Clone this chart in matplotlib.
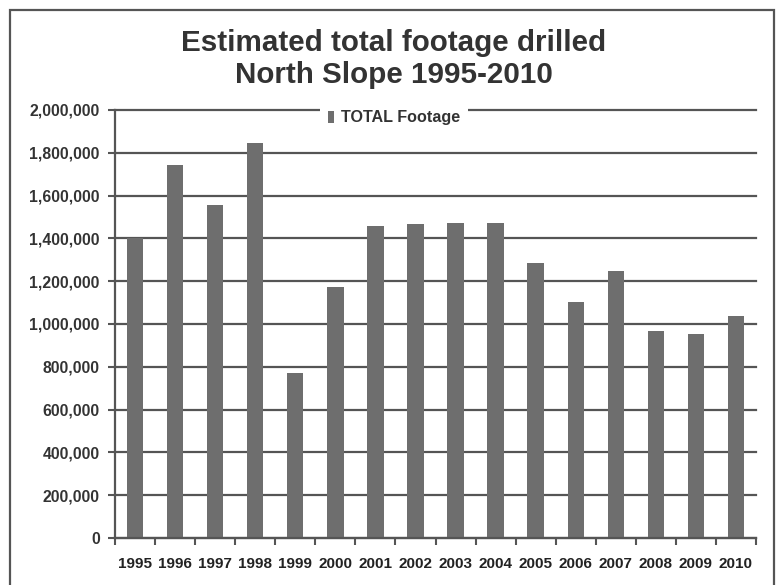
import matplotlib
matplotlib.use("Agg")
import matplotlib.pyplot as plt
from matplotlib.patches import Rectangle
from matplotlib.ticker import FuncFormatter, FixedLocator

years = ["1995", "1996", "1997", "1998", "1999", "2000", "2001", "2002",
         "2003", "2004", "2005", "2006", "2007", "2008", "2009", "2010"]
total_footage = [1400000, 1741000, 1556000, 1846000, 769000, 1174000, 1457000, 1469000,
                 1474000, 1474000, 1284000, 1104000, 1247000, 966000, 954000, 1039000]
y_ticks = [0, 200000, 400000, 600000, 800000, 1000000, 1200000, 1400000,
           1600000, 1800000, 2000000]

W, H = 782, 585
fig = plt.figure(figsize=(W / 100, H / 100), dpi=100)
fig.patch.set_facecolor("white")

font = ["Liberation Sans", "DejaVu Sans"]

# outer frame around the chart
fig.add_artist(Rectangle((10 / W, 1 - 600 / H), 764 / W, 590 / H,
                         transform=fig.transFigure, fill=False,
                         edgecolor="#555555", linewidth=1.6))

left, right, top, bottom = 115, 756, 110, 538
ax = fig.add_axes([left / W, 1 - bottom / H, (right - left) / W, (bottom - top) / H])

x = list(range(len(years)))
ax.bar(x, total_footage, width=0.41, color="#6e6e6e", label="TOTAL Footage", zorder=3)

ax.set_xlim(-0.5, len(years) - 0.5)
ax.set_ylim(0, 2000000)
ax.yaxis.set_major_locator(FixedLocator(y_ticks))
ax.yaxis.set_major_formatter(FuncFormatter(lambda v, p: f"{int(v):,}"))
ax.grid(axis="y", color="#555555", linewidth=1.6, zorder=1)
for gl in ax.get_ygridlines():
    gl.set_clip_on(False)

ax.set_xticks(x)
ax.set_xticklabels(years, fontfamily=font, fontweight="bold", fontsize=11, color="#222222")
ax.set_xticks([i - 0.5 for i in range(len(years) + 1)], minor=True)
ax.tick_params(axis="x", which="major", length=0, pad=14)
ax.tick_params(axis="x", which="minor", length=5, width=1.5, color="#555555")
ax.tick_params(axis="y", length=5, width=1.5, color="#555555", pad=6)
for lbl in ax.get_yticklabels():
    lbl.set_fontfamily(font)
    lbl.set_fontweight("bold")
    lbl.set_fontsize(11.3)
    lbl.set_color("#333333")

for s in ("top", "right"):
    ax.spines[s].set_visible(False)
for s in ("left", "bottom"):
    ax.spines[s].set_color("#555555")
    ax.spines[s].set_linewidth(1.6)
    ax.spines[s].set_zorder(4)

fig.text(394 / W, 1 - 43 / H, "Estimated total footage drilled", ha="center", va="center",
         fontfamily=font, fontweight="bold", fontsize=21.3, color="#333333")
fig.text(394 / W, 1 - 75 / H, "North Slope 1995-2010", ha="center", va="center",
         fontfamily=font, fontweight="bold", fontsize=21.3, color="#333333")

leg = ax.legend(loc="center", bbox_to_anchor=(394 / W, 1 - 118 / H),
                bbox_transform=fig.transFigure, frameon=True, fancybox=False,
                facecolor="white", edgecolor="none", framealpha=1,
                handlelength=0.35, handleheight=0.75, handletextpad=0.45,
                borderpad=0.5, prop={"family": font, "weight": "bold", "size": 11.6})
leg.get_frame().set_linewidth(0)
for t in leg.get_texts():
    t.set_color("#333333")
leg.set_zorder(5)

fig.savefig("out.png", dpi=100, facecolor="white")
